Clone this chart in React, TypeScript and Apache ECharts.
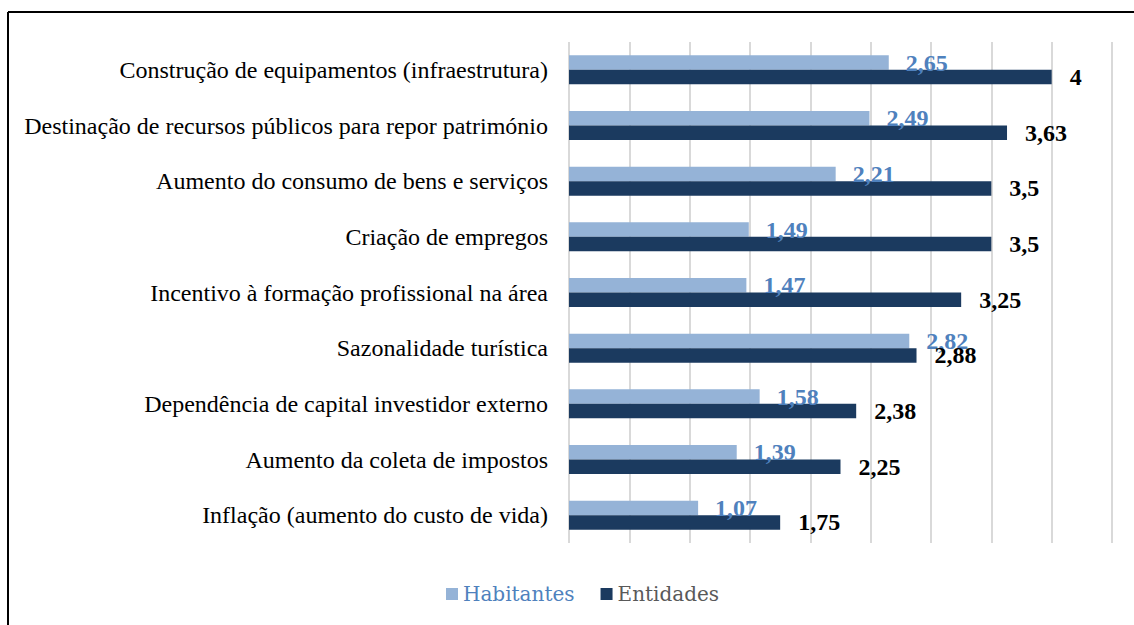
import React, { useEffect, useRef } from "react";
import * as echarts from "echarts";

const categories = [
  "Construção de equipamentos (infraestrutura)",
  "Destinação de recursos públicos para repor património",
  "Aumento do consumo de bens e serviços",
  "Criação de empregos",
  "Incentivo à formação profissional na área",
  "Sazonalidade turística",
  "Dependência de capital investidor externo",
  "Aumento da coleta de impostos",
  "Inflação (aumento do custo de vida)",
];
const habitantes = [2.65, 2.49, 2.21, 1.49, 1.47, 2.82, 1.58, 1.39, 1.07];
const entidades = [4, 3.63, 3.5, 3.5, 3.25, 2.88, 2.38, 2.25, 1.75];

const fmt = (p: any) => String(p.value).replace(".", ",");

export default function App() {
  const ref = useRef<HTMLDivElement>(null);
  useEffect(() => {
    if (!ref.current) return;
    const chart = echarts.init(ref.current, undefined, { renderer: "svg" });
    chart.setOption({
      animation: false,
      backgroundColor: "#fff",
      grid: { left: 569, right: 22, top: 42, bottom: 82, containLabel: false },
      xAxis: {
        type: "value",
        min: 0,
        max: 4.5,
        interval: 0.5,
        axisLabel: { show: false },
        axisLine: { show: false },
        axisTick: { show: false },
        splitLine: { show: true, lineStyle: { color: "#D9D9D9", width: 2 } },
      },
      yAxis: {
        type: "category",
        inverse: true,
        data: categories,
        axisLine: { show: false },
        axisTick: { show: false },
        axisLabel: {
          margin: 21,
          fontFamily: "Liberation Serif",
          fontSize: 24,
          color: "#000",
        },
      },
      legend: {
        left: 441,
        top: 579,
        itemWidth: 12,
        itemHeight: 12,
        itemGap: 26,
        icon: "rect",
        textStyle: { fontFamily: "DejaVu Serif", fontSize: 20 },
        data: [
          { name: "Habitantes", textStyle: { color: "#4F81BD" } },
          { name: "Entidades", textStyle: { color: "#595959" } },
        ],
      },
      series: [
        {
          name: "Habitantes",
          type: "bar",
          data: habitantes,
          barWidth: 14.5,
          barGap: "0%",
          itemStyle: { color: "#95B3D7" },
          label: {
            show: true,
            position: "right",
            distance: 17,
            formatter: fmt,
            fontFamily: "Liberation Serif",
            fontWeight: "bold",
            fontSize: 24,
            color: "#4F81BD",
          },
        },
        {
          name: "Entidades",
          type: "bar",
          data: entidades,
          barWidth: 14.5,
          barGap: "0%",
          itemStyle: { color: "#1B3A5F" },
          label: {
            show: true,
            position: "right",
            distance: 18,
            formatter: fmt,
            fontFamily: "Liberation Serif",
            fontWeight: "bold",
            fontSize: 24,
            color: "#000",
          },
        },
      ],
      graphic: [
        {
          type: "line",
          shape: { x1: 8, y1: 12, x2: 1134, y2: 12 },
          style: { stroke: "#000", lineWidth: 2 },
        },
        {
          type: "line",
          shape: { x1: 8, y1: 12, x2: 8, y2: 625 },
          style: { stroke: "#000", lineWidth: 2 },
        },
      ],
    });
    return () => chart.dispose();
  }, []);
  return (
    <div
      ref={ref}
      style={{ position: "absolute", left: 0, top: 0, width: 1134, height: 625 }}
    />
  );
}
